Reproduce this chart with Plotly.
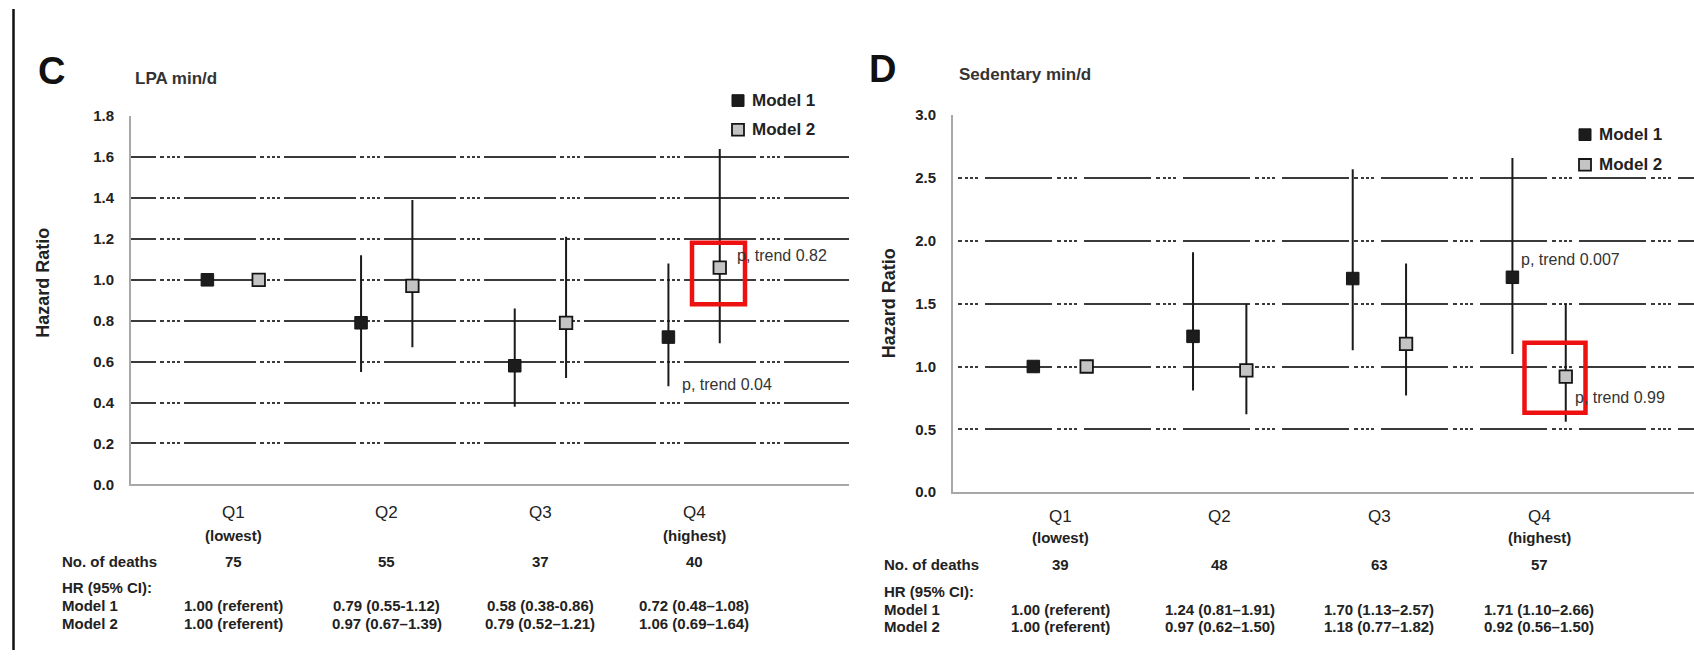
import plotly.graph_objects as go

W, H = 1694, 658

# ---- data -------------------------------------------------------------
quartiles = ["Q1", "Q2", "Q3", "Q4"]
quartile_notes = ["(lowest)", "", "", "(highest)"]

lpa_deaths = [75, 55, 37, 40]
lpa_m1 = [1.00, 0.79, 0.58, 0.72]
lpa_m1_lo = [1.00, 0.55, 0.38, 0.48]
lpa_m1_hi = [1.00, 1.12, 0.86, 1.08]
lpa_m2 = [1.00, 0.97, 0.79, 1.06]
lpa_m2_lo = [1.00, 0.67, 0.52, 0.69]
lpa_m2_hi = [1.00, 1.39, 1.21, 1.64]
lpa_m1_text = ["1.00 (referent)", "0.79 (0.55-1.12)", "0.58 (0.38-0.86)", "0.72 (0.48\u20131.08)"]
lpa_m2_text = ["1.00 (referent)", "0.97 (0.67\u20131.39)", "0.79 (0.52\u20131.21)", "1.06 (0.69\u20131.64)"]
lpa_ptrend = ["p, trend 0.04", "p, trend 0.82"]

sed_deaths = [39, 48, 63, 57]
sed_m1 = [1.00, 1.24, 1.70, 1.71]
sed_m1_lo = [1.00, 0.81, 1.13, 1.10]
sed_m1_hi = [1.00, 1.91, 2.57, 2.66]
sed_m2 = [1.00, 0.97, 1.18, 0.92]
sed_m2_lo = [1.00, 0.62, 0.77, 0.56]
sed_m2_hi = [1.00, 1.50, 1.82, 1.50]
sed_m1_text = ["1.00 (referent)", "1.24 (0.81\u20131.91)", "1.70 (1.13\u20132.57)", "1.71 (1.10\u20132.66)"]
sed_m2_text = ["1.00 (referent)", "0.97 (0.62\u20131.50)", "1.18 (0.77\u20131.82)", "0.92 (0.56\u20131.50)"]
sed_ptrend = ["p, trend 0.007", "p, trend 0.99"]

lpa_yticks = [0.0, 0.2, 0.4, 0.6, 0.8, 1.0, 1.2, 1.4, 1.6, 1.8]
sed_yticks = [0.0, 0.5, 1.0, 1.5, 2.0, 2.5, 3.0]

# ---- styling helpers ---------------------------------------------------
FONT = "Liberation Sans, Arial, sans-serif"
INK = "#222222"
M1_FILL, M2_FILL = "#1c1c1c", "#c4c4c4"
OFF = 0.167  # horizontal offset of the two models inside a quartile


def px(x):
    return x / W


def py(y):
    return 1 - y / H


def f(size, bold=True, color=INK):
    return dict(family=FONT, size=size, color=color, weight="bold" if bold else "normal")


fig = go.Figure()


def add_model(xaxis, yaxis, vals, lo, hi, shift, fill, line_w, name):
    xs = [i + shift for i in range(len(vals))]
    fig.add_trace(go.Scatter(
        x=xs, y=vals, mode="markers", name=name, showlegend=False,
        xaxis=xaxis, yaxis=yaxis,
        marker=dict(symbol="square", size=12.5, color=fill,
                    line=dict(color="#151515", width=line_w)),
        error_y=dict(type="data", symmetric=False,
                     array=[h - v for h, v in zip(hi, vals)],
                     arrayminus=[v - l for v, l in zip(vals, lo)],
                     thickness=2, width=0, color="#1a1a1a"),
        hoverinfo="skip",
    ))


add_model("x", "y", lpa_m1, lpa_m1_lo, lpa_m1_hi, -OFF, M1_FILL, 1, "Model 1")
add_model("x", "y", lpa_m2, lpa_m2_lo, lpa_m2_hi, OFF, M2_FILL, 1.8, "Model 2")
add_model("x2", "y2", sed_m1, sed_m1_lo, sed_m1_hi, -OFF, M1_FILL, 1, "Model 1")
add_model("x2", "y2", sed_m2, sed_m2_lo, sed_m2_hi, OFF, M2_FILL, 1.8, "Model 2")

AX_GRAY = "#a8a8a8"
GRID = "#3a3a3a"
# long dash followed by a short run of dots, repeating every ~100 px
C_DASH = "25px,4px,4px,3px,3px,2px,3px,2px,3px,4px,47px,0px"
D_DASH = "0px,5px,4px,3px,3px,2px,3px,2px,3px,7px,67px,0px"

common_x = dict(showgrid=False, zeroline=False, showticklabels=False, ticks="",
                showline=True, linecolor=AX_GRAY, linewidth=2, fixedrange=True)
common_y = dict(zeroline=False, ticks="", showline=True, linecolor=AX_GRAY, linewidth=2,
                gridcolor=GRID, gridwidth=2, tickfont=f(15), ticklabelstandoff=12,
                fixedrange=True)

fig.update_layout(
    width=W, height=H,
    margin=dict(l=0, r=0, t=0, b=0),
    paper_bgcolor="white", plot_bgcolor="white",
    xaxis=dict(domain=[px(131), px(849)], range=[-0.664, 4.008], anchor="y", **common_x),
    yaxis=dict(domain=[py(488), py(110)], range=[0, 1.8], anchor="x",
               tickvals=lpa_yticks, ticktext=[f"{v:.1f}" for v in lpa_yticks],
               griddash=C_DASH, **common_y),
    xaxis2=dict(domain=[px(953), 1.0], range=[-0.670, 3.97], anchor="y2", **common_x),
    yaxis2=dict(domain=[py(496), py(109)], range=[0, 3.0], anchor="x2",
                tickvals=sed_yticks, ticktext=[f"{v:.1f}" for v in sed_yticks],
                griddash=D_DASH, **common_y),
)

ann = []
shapes = []


def text(x, y, s, font, xanchor="left", yanchor="middle", xref="paper", angle=0):
    ann.append(dict(x=x, y=y, xref=xref, yref="paper", text=s, showarrow=False,
                    xanchor=xanchor, yanchor=yanchor, font=font, textangle=angle))


# left frame line
shapes.append(dict(type="line", xref="paper", yref="paper", x0=px(13.5), x1=px(13.5),
                   y0=0, y1=1, line=dict(color="#111111", width=2.5)))

panels = [
    dict(letter="C", lx=51, ly=64, title="LPA min/d", tx=133, ty=71, xref="x",
         ytitle=281, ytx=43, qy=517, ny=540, dy=567, hry=594, m1y=612, m2y=631, left=60,
         deaths=lpa_deaths, m1t=lpa_m1_text, m2t=lpa_m2_text,
         leg=(732, 94, 124), pt=[(680, 385, lpa_ptrend[0]), (735, 253, lpa_ptrend[1])],
         box=(692, 240, 745, 303)),
    dict(letter="D", lx=882, ly=62, title="Sedentary min/d", tx=957, ty=67, xref="x2",
         ytitle=302, ytx=889, qy=521, ny=543, dy=570, hry=598, m1y=616, m2y=634, left=882,
         deaths=sed_deaths, m1t=sed_m1_text, m2t=sed_m2_text,
         leg=(1579, 129, 160), pt=[(1519, 257, sed_ptrend[0]), (1573, 399, sed_ptrend[1])],
         box=(1524.5, 342.5, 1585.5, 414.5)),
]

for p in panels:
    text(px(p["lx"]), py(p["ly"]), p["letter"], f(38, color="#111111"), xanchor="center")
    text(px(p["tx"]), py(p["ty"]), p["title"], f(17, color="#333333"))
    text(px(p["ytx"]), py(p["ytitle"]), "Hazard Ratio", f(18), xanchor="center", angle=-90)

    for i, q in enumerate(quartiles):
        text(i, py(p["qy"]), q, f(17, bold=False), xanchor="center", xref=p["xref"])
        if quartile_notes[i]:
            text(i, py(p["ny"]), quartile_notes[i], f(15), xanchor="center", xref=p["xref"])
        text(i, py(p["dy"]), str(p["deaths"][i]), f(15), xanchor="center", xref=p["xref"])
        text(i, py(p["m1y"]), p["m1t"][i], f(15), xanchor="center", xref=p["xref"])
        text(i, py(p["m2y"]), p["m2t"][i], f(15), xanchor="center", xref=p["xref"])

    text(px(p["left"]), py(p["dy"]), "No. of deaths", f(15))
    text(px(p["left"]), py(p["hry"]), "HR (95% CI):", f(15))
    text(px(p["left"]), py(p["m1y"]), "Model 1", f(15))
    text(px(p["left"]), py(p["m2y"]), "Model 2", f(15))

    # legend swatches
    lx, y1, y2 = p["leg"]
    for yy, fill, lw, label in [(y1, M1_FILL, 1, "Model 1"), (y2, M2_FILL, 1.8, "Model 2")]:
        shapes.append(dict(type="rect", xref="paper", yref="paper",
                           x0=px(lx), x1=px(lx + 12), y0=py(yy + 6), y1=py(yy - 6),
                           fillcolor=fill, line=dict(color="#151515", width=lw)))
        text(px(lx + 18), py(yy), label, f(17))

    for (x, y, s) in p["pt"]:
        text(px(x), py(y), s, f(16, bold=False, color="#333333"))

    bx0, by0, bx1, by1 = p["box"]
    shapes.append(dict(type="rect", xref="paper", yref="paper",
                       x0=px(bx0), x1=px(bx1), y0=py(by1), y1=py(by0),
                       line=dict(color="#ee1111", width=4.5), fillcolor="rgba(0,0,0,0)"))

fig.update_layout(annotations=ann, shapes=shapes)
fig.write_html("out.html")
